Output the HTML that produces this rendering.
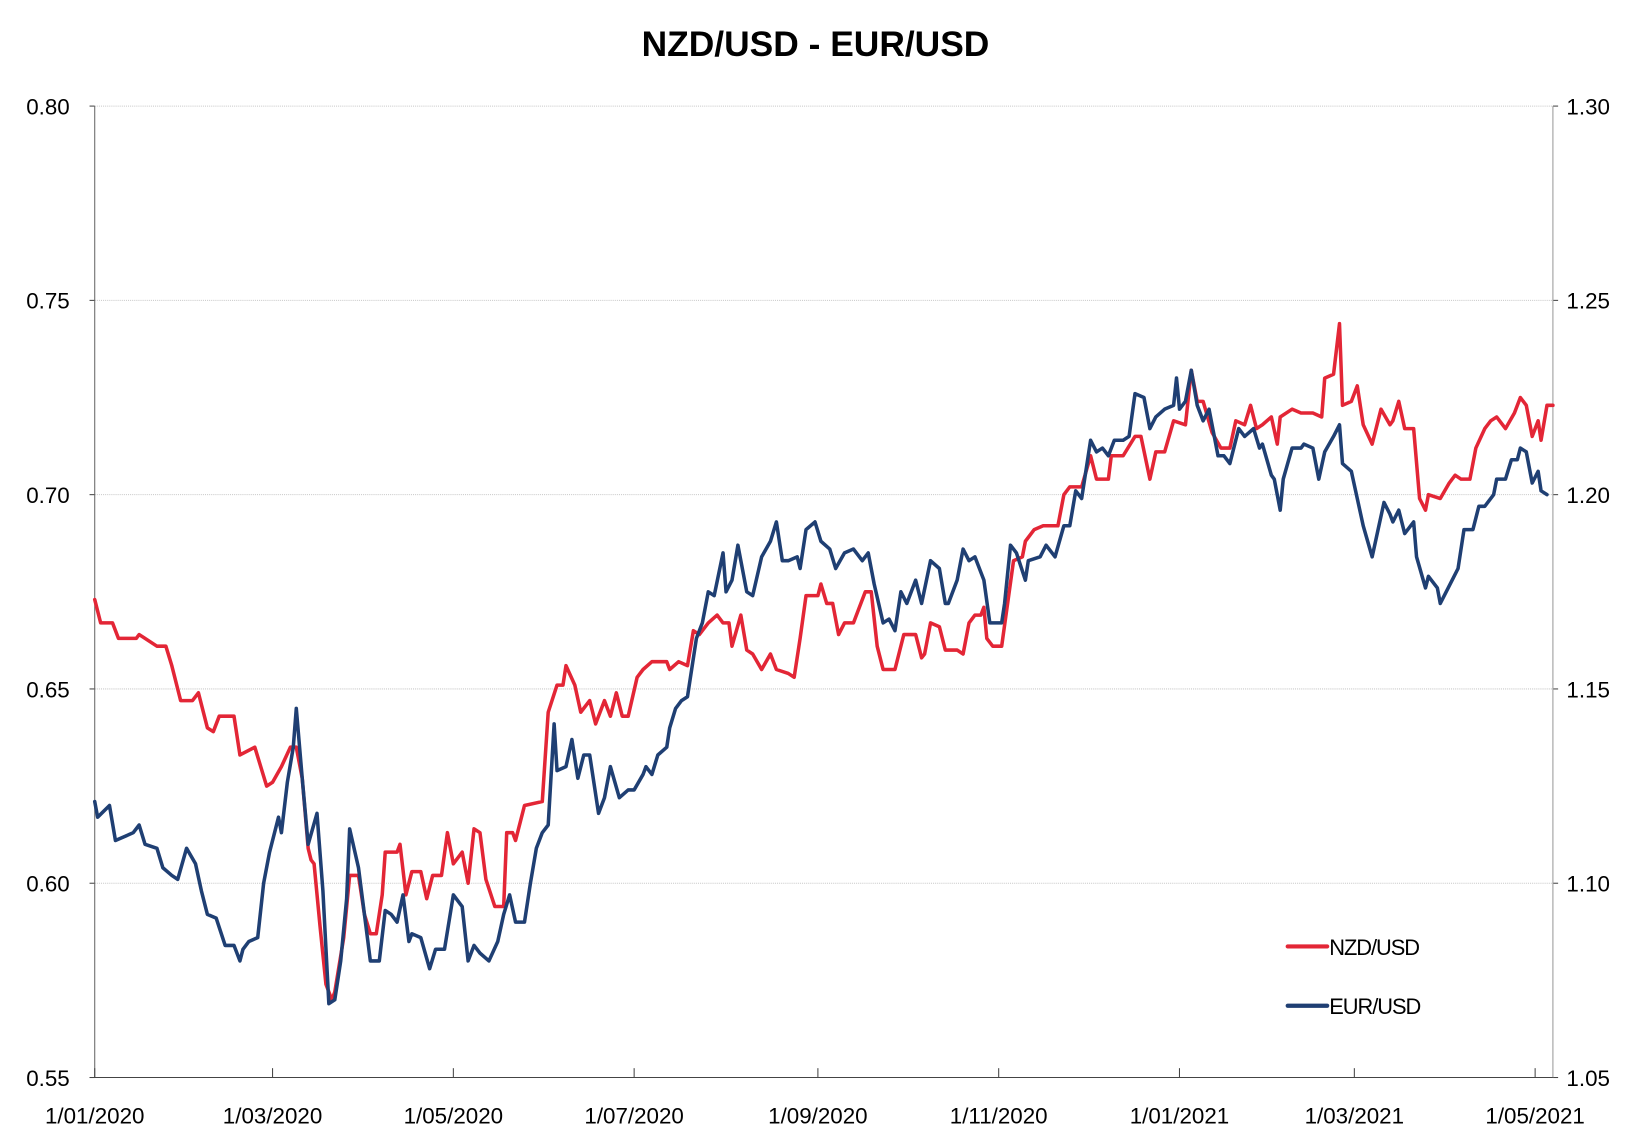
<!DOCTYPE html>
<html><head><meta charset="utf-8"><style>
html,body{margin:0;padding:0;background:#fff;}
svg{display:block;}
text{font-family:"Liberation Sans",sans-serif;fill:#000;}
</style></head><body>
<svg id="chart" width="1631" height="1142" viewBox="0 0 1568 1098" xmlns="http://www.w3.org/2000/svg">
<rect width="1568" height="1098" fill="#fff"/>
<text x="784" y="54" text-anchor="middle" font-size="34" font-weight="bold">NZD/USD - EUR/USD</text>
<g id="grid"></g><g id="axes"></g><g id="series"></g>
<g>
<line x1="1238" y1="910" x2="1276" y2="910" stroke="#e32636" stroke-width="4" stroke-linecap="round"/>
<text x="1278" y="918" font-size="21" letter-spacing="-1">NZD/USD</text>
<line x1="1238" y1="967" x2="1276" y2="967" stroke="#1f3f73" stroke-width="4" stroke-linecap="round"/>
<text x="1278" y="975" font-size="21" letter-spacing="-1">EUR/USD</text>
</g>
</svg>
<script>
const leftTicks=[0.55,0.60,0.65,0.70,0.75,0.80];
const rightTicks=[1.05,1.10,1.15,1.20,1.25,1.30];
const xTickDays=[0,60,121,182,244,305,366,425,486];
const xTickLabels=["1/01/2020","1/03/2020","1/05/2020","1/07/2020","1/09/2020","1/11/2020","1/01/2021","1/03/2021","1/05/2021"];
const nzdDays=[0,2,6,8,14,15,21,24,26,29,33,35,38,40,42,47,49,54,58,60,63,66,68,70,72,73,74,76,78,80,81,84,86,89,91,93,95,97,98,102,103,105,107,110,112,114,117,119,121,124,126,128,130,132,135,138,139,141,142,145,151,153,156,158,159,162,164,167,169,172,174,176,178,180,183,185,188,193,194,197,200,202,204,207,210,212,214,215,218,220,222,225,228,230,234,236,238,240,244,245,247,249,251,253,256,258,260,262,264,266,270,273,277,279,280,282,285,287,291,293,295,297,299,300,301,303,306,308,310,313,314,317,320,325,327,329,333,336,338,342,343,347,351,353,356,358,361,364,368,370,372,374,377,380,383,385,388,390,392,394,397,399,400,404,407,411,414,415,418,420,421,424,426,428,431,434,437,438,440,442,445,447,449,450,454,457,459,461,464,466,469,471,473,476,479,481,483,485,487,488,490,492];
const nzdValues=[0.673,0.667,0.667,0.663,0.663,0.664,0.661,0.661,0.656,0.647,0.647,0.649,0.640,0.639,0.643,0.643,0.633,0.635,0.625,0.626,0.630,0.635,0.635,0.627,0.609,0.606,0.605,0.589,0.574,0.570,0.572,0.586,0.602,0.602,0.592,0.587,0.587,0.597,0.608,0.608,0.610,0.597,0.603,0.603,0.596,0.602,0.602,0.613,0.605,0.608,0.600,0.614,0.613,0.601,0.594,0.594,0.613,0.613,0.611,0.620,0.621,0.644,0.651,0.651,0.656,0.651,0.644,0.647,0.641,0.647,0.643,0.649,0.643,0.643,0.653,0.655,0.657,0.657,0.655,0.657,0.656,0.665,0.664,0.667,0.669,0.667,0.667,0.661,0.669,0.660,0.659,0.655,0.659,0.655,0.654,0.653,0.663,0.674,0.674,0.677,0.672,0.672,0.664,0.667,0.667,0.671,0.675,0.675,0.661,0.655,0.655,0.664,0.664,0.658,0.659,0.667,0.666,0.660,0.660,0.659,0.667,0.669,0.669,0.671,0.663,0.661,0.661,0.672,0.683,0.684,0.688,0.691,0.692,0.692,0.700,0.702,0.702,0.710,0.704,0.704,0.710,0.710,0.715,0.715,0.704,0.711,0.711,0.719,0.718,0.732,0.724,0.724,0.716,0.712,0.712,0.719,0.718,0.723,0.717,0.718,0.720,0.713,0.720,0.722,0.721,0.721,0.720,0.730,0.731,0.744,0.723,0.724,0.728,0.718,0.713,0.722,0.718,0.719,0.724,0.717,0.717,0.699,0.696,0.700,0.699,0.703,0.705,0.704,0.704,0.712,0.717,0.719,0.720,0.717,0.721,0.725,0.723,0.715,0.719,0.714,0.723,0.723];
const eurDays=[0,1,5,7,10,13,15,17,21,23,26,28,31,34,36,38,41,44,47,49,50,52,55,57,59,62,63,65,67,68,70,72,75,77,79,81,83,85,86,89,91,93,96,98,100,102,104,106,107,110,113,115,118,121,124,126,128,130,133,136,138,140,142,145,147,149,151,153,155,156,159,161,163,165,167,170,172,174,177,180,182,185,186,188,190,193,194,196,198,200,203,205,207,209,212,213,215,217,220,222,225,228,230,232,234,237,238,240,243,245,248,250,253,256,259,261,263,266,268,270,272,274,277,279,282,285,287,288,291,293,295,297,300,302,306,307,309,311,314,315,319,321,324,327,329,331,333,336,338,340,342,344,347,349,351,354,356,358,361,364,365,366,368,370,372,374,376,379,381,383,386,388,391,393,394,397,398,400,401,404,407,408,411,413,415,418,420,421,424,426,428,431,433,435,437,438,440,442,445,446,449,450,453,454,456,458,460,462,465,467,469,472,473,476,478,480,481,483,485,487,488,490];
const eurValues=[1.121,1.117,1.120,1.111,1.112,1.113,1.115,1.110,1.109,1.104,1.102,1.101,1.109,1.105,1.098,1.092,1.091,1.084,1.084,1.080,1.083,1.085,1.086,1.100,1.108,1.117,1.113,1.126,1.135,1.145,1.127,1.110,1.118,1.098,1.069,1.070,1.080,1.096,1.114,1.104,1.092,1.080,1.080,1.093,1.092,1.090,1.097,1.085,1.087,1.086,1.078,1.083,1.083,1.097,1.094,1.080,1.084,1.082,1.080,1.085,1.092,1.097,1.090,1.090,1.100,1.109,1.113,1.115,1.141,1.129,1.130,1.137,1.127,1.133,1.133,1.118,1.122,1.130,1.122,1.124,1.124,1.128,1.130,1.128,1.133,1.135,1.140,1.145,1.147,1.148,1.163,1.167,1.175,1.174,1.185,1.175,1.178,1.187,1.175,1.174,1.184,1.188,1.193,1.183,1.183,1.184,1.181,1.191,1.193,1.188,1.186,1.181,1.185,1.186,1.183,1.185,1.177,1.167,1.168,1.165,1.175,1.172,1.178,1.172,1.183,1.181,1.172,1.172,1.178,1.186,1.183,1.184,1.178,1.167,1.167,1.172,1.187,1.185,1.178,1.183,1.184,1.187,1.184,1.192,1.192,1.201,1.199,1.214,1.211,1.212,1.210,1.214,1.214,1.215,1.226,1.225,1.217,1.220,1.222,1.223,1.230,1.222,1.224,1.232,1.223,1.219,1.222,1.210,1.210,1.208,1.217,1.215,1.217,1.212,1.213,1.205,1.204,1.196,1.204,1.212,1.212,1.213,1.212,1.204,1.211,1.215,1.218,1.208,1.206,1.199,1.192,1.184,1.191,1.198,1.195,1.193,1.196,1.190,1.193,1.184,1.176,1.179,1.176,1.172,1.175,1.178,1.181,1.191,1.191,1.197,1.197,1.200,1.204,1.204,1.209,1.209,1.212,1.211,1.203,1.206,1.201,1.200];

const NS="http://www.w3.org/2000/svg";
const X0=91,X1=1493,Y0=1036,Y1=102,DAYS=492;
const xs=d=>X0+d/DAYS*(X1-X0);
const yL=v=>Y0-(v-0.55)/0.25*(Y0-Y1);
const yR=v=>Y0-(v-1.05)/0.25*(Y0-Y1);
function mk(tag,attrs,parent){const e=document.createElementNS(NS,tag);for(const k in attrs)e.setAttribute(k,attrs[k]);parent.appendChild(e);return e;}
const grid=document.getElementById('grid'),axes=document.getElementById('axes'),series=document.getElementById('series');
leftTicks.forEach(v=>{
  if(v>0.55){const g=mk('line',{x1:X0,x2:X1,y1:yL(v),y2:yL(v),stroke:'#c8c8c8','stroke-width':1,'stroke-dasharray':'1,1'},grid);
  
  }
  const t=mk('line',{x1:X0-5,x2:X0,y1:yL(v),y2:yL(v),stroke:'#444','stroke-width':1},axes);
  
  
  const l=mk('text',{x:67,y:yL(v)+8,'text-anchor':'end','font-size':21.5},axes);l.textContent=v.toFixed(2);
  
  
});
rightTicks.forEach(v=>{
  const t=mk('line',{x1:X1,x2:X1+5,y1:yR(v),y2:yR(v),stroke:'#444','stroke-width':1},axes);
  
  
  const l=mk('text',{x:1506,y:yR(v)+8,'font-size':21.5},axes);l.textContent=v.toFixed(2);
  
  
});
const la=mk('line',{x1:X0,x2:X0,y1:Y1,y2:Y0,stroke:'#666','stroke-width':1},axes);


const ra=mk('line',{x1:X1,x2:X1,y1:Y1,y2:Y0,stroke:'#999','stroke-width':1},axes);


const xa=mk('line',{x1:X0-5,x2:X1,y1:Y0,y2:Y0,stroke:'#444','stroke-width':1},axes);


xTickDays.forEach((d,i)=>{
  const t=mk('line',{x1:xs(d),x2:xs(d),y1:Y0-9,y2:Y0,stroke:'#444','stroke-width':1},axes);
  
  
  const l=mk('text',{x:xs(d),y:1080,'text-anchor':'middle','font-size':21.5},axes);l.textContent=xTickLabels[i];
  
  
});
function line(days,vals,yf,color,name){
  const pts=days.map((d,i)=>xs(d).toFixed(1)+','+yf(vals[i]).toFixed(1)).join(' ');
  const p=mk('polyline',{points:pts,fill:'none',stroke:color,'stroke-width':3.4,'stroke-linejoin':'round','stroke-linecap':'round'},series);
  
  
}
line(nzdDays,nzdValues,yL,'#e32636','nzd-usd-line');
line(eurDays,eurValues,yR,'#1f3f73','eur-usd-line');
</script>
</body></html>
